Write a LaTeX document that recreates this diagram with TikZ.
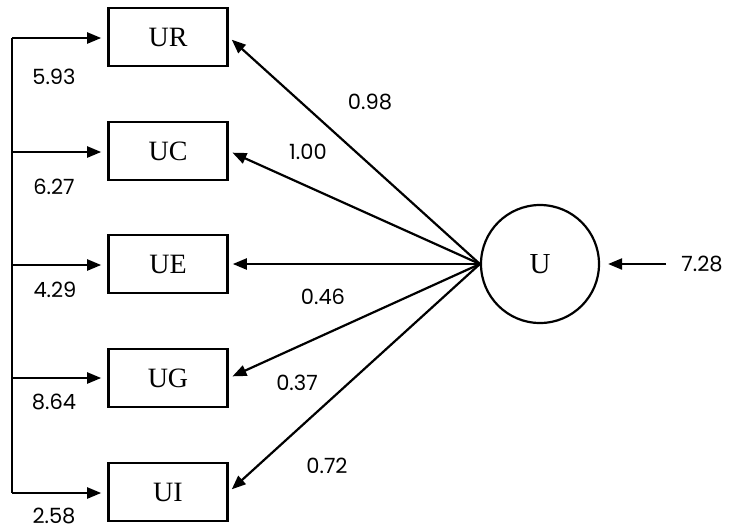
\documentclass[tikz,border=0pt]{standalone}
\usepackage{fontspec}
\setmainfont{Liberation Serif}
\newfontfamily\numfont{Poppins}
\usetikzlibrary{arrows.meta}

\begin{document}
\begin{tikzpicture}[x=1pt, y=-1pt,
    var/.style={draw, line width=2.6pt, minimum width=119pt, minimum height=58pt, inner sep=0pt, font=\fontsize{28}{28}\selectfont},
    lat/.style={draw, circle, line width=2.2pt, minimum size=118pt, inner sep=0pt, font=\fontsize{29}{29}\selectfont},
    num/.style={inner sep=1pt, font=\numfont\fontsize{21}{21}\selectfont},
    arr/.style={line width=2.2pt, -{Triangle[length=14pt, width=11pt]}}]
    \useasboundingbox (0,0) rectangle (734,531);

    \node[var] (ur) at (168, 37) {UR};
    \node[var] (uc) at (168, 151) {UC};
    \node[var] (ue) at (168, 264) {UE};
    \node[var] (ug) at (168, 378) {UG};
    \node[var] (ui) at (168, 492) {UI};
    \node[lat] (u) at (540, 264) {U};

    \coordinate (s1) at (12, 38);
    \coordinate (s2) at (12, 152);
    \coordinate (s3) at (12, 265);
    \coordinate (s4) at (12, 378);
    \coordinate (s5) at (12, 493);

    \draw[line width=2.2pt] (s1) -- (s5);
    \draw[arr, shorten >=6pt] (s1) -- (s1 -| ur.west);
    \draw[arr, shorten >=6pt] (s2) -- (s2 -| uc.west);
    \draw[arr, shorten >=6pt] (s3) -- (s3 -| ue.west);
    \draw[arr, shorten >=6pt] (s4) -- (s4 -| ug.west);
    \draw[arr, shorten >=6pt] (s5) -- (s5 -| ui.west);

    \node[num] (e1) at (54, 77) {5.93};
    \node[num] (e2) at (54, 187) {6.27};
    \node[num] (e3) at (55, 290) {4.29};
    \node[num] (e4) at (54, 402) {8.64};
    \node[num] (e5) at (54, 516) {2.58};

    \draw[arr, shorten >=4pt] (u.west) -- (ur.east);
    \draw[arr, shorten >=4pt] (u.west) -- (uc.east);
    \draw[arr, shorten >=4pt] (u.west) -- (ue.east);
    \draw[arr, shorten >=4pt] (u.west) -- (ug.east);
    \draw[arr, shorten >=4pt] (u.west) -- (ui.east);

    \node[num] (l1) at (370, 102) {0.98};
    \node[num] (l2) at (308, 152) {1.00};
    \node[num] (l3) at (323, 297) {0.46};
    \node[num] (l4) at (297, 383) {0.37};
    \node[num] (l5) at (327, 466) {0.72};

    \node[num] (d) at (702, 264) {7.28};
    \draw[arr, shorten <=14pt, shorten >=8pt] (d.west) -- (u.east);
\end{tikzpicture}
\end{document}
